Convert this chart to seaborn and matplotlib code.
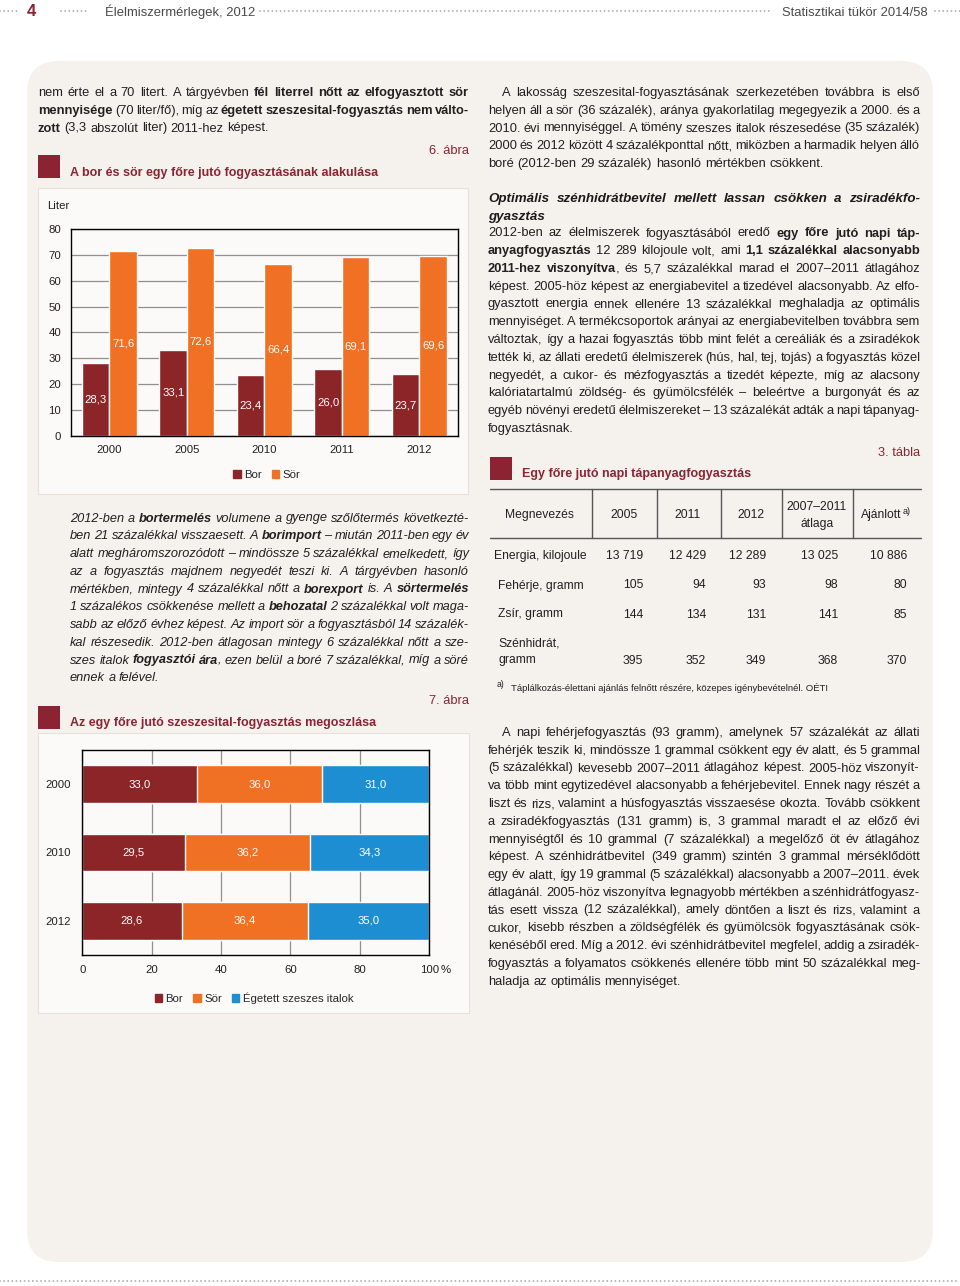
import numpy as np
import pandas as pd
import matplotlib
matplotlib.use("Agg")
import matplotlib.pyplot as plt
import seaborn as sns
from matplotlib.patches import FancyBboxPatch, Rectangle
from matplotlib.lines import Line2D

# --- 6. ábra: bor és sör fogyasztás (liter/fő)
years6 = ["2000", "2005", "2010", "2011", "2012"]
bor6 = [28.3, 33.1, 23.4, 26.0, 23.7]
sor6 = [71.6, 72.6, 66.4, 69.1, 69.6]

# --- 7. ábra: szeszesital-fogyasztás megoszlása (%)
years7 = ["2000", "2010", "2012"]
bor7 = [33.0, 29.5, 28.6]
sor7 = [36.0, 36.2, 36.4]
eget7 = [31.0, 34.3, 35.0]

# --- 3. tábla
tab_head = ["2005", "2011", "2012", "2007–2011\nátlaga", "Ajánlott"]
tab_rows = ["Energia, kilojoule", "Fehérje, gramm", "Zsír, gramm", "Szénhidrát,\ngramm"]
tab_2005 = ["13 719", "105", "144", "395"]
tab_2011 = ["12 429", "94", "134", "352"]
tab_2012 = ["12 289", "93", "131", "349"]
tab_avg = ["13 025", "98", "141", "368"]
tab_rec = ["10 886", "80", "85", "370"]

left_p1 = [
    "nem érte el a 70 litert. A tárgyévben **fél literrel nőtt az elfogyasztott sör**",
    "**mennyisége** (70 liter/fő), míg az **égetett szeszesital-fogyasztás nem válto-**",
    "**zott** (3,3 abszolút liter) 2011-hez képest.",
]
left_p2 = [
    "2012-ben a **bortermelés** volumene a gyenge szőlőtermés következté-",
    "ben 21 százalékkal visszaesett. A **borimport** – miután 2011-ben egy év",
    "alatt megháromszorozódott – mindössze 5 százalékkal emelkedett, így",
    "az a fogyasztás majdnem negyedét teszi ki. A tárgyévben hasonló",
    "mértékben, mintegy 4 százalékkal nőtt a **borexport** is. A **sörtermelés**",
    "1 százalékos csökkenése mellett a **behozatal** 2 százalékkal volt maga-",
    "sabb az előző évhez képest. Az import sör a fogyasztásból 14 százalék-",
    "kal részesedik. 2012-ben átlagosan mintegy 6 százalékkal nőtt a sze-",
    "szes italok **fogyasztói ára**, ezen belül a boré 7 százalékkal, míg a söré",
    "ennek a felével.",
]
right_p1 = [
    "A lakosság szeszesital-fogyasztásának szerkezetében továbbra is első",
    "helyen áll a sör (36 százalék), aránya gyakorlatilag megegyezik a 2000. és a",
    "2010. évi mennyiséggel. A tömény szeszes italok részesedése (35 százalék)",
    "2000 és 2012 között 4 százalékponttal nőtt, miközben a harmadik helyen álló",
    "boré (2012-ben 29 százalék) hasonló mértékben csökkent.",
]
right_head = [
    "**Optimális szénhidrátbevitel mellett lassan csökken a zsiradékfo-**",
    "**gyasztás**",
]
right_p2 = [
    "2012-ben az élelmiszerek fogyasztásából eredő **egy főre jutó napi táp-**",
    "**anyagfogyasztás** 12 289 kilojoule volt, ami **1,1 százalékkal alacsonyabb**",
    "**2011-hez viszonyítva**, és 5,7 százalékkal marad el 2007–2011 átlagához",
    "képest. 2005-höz képest az energiabevitel a tizedével alacsonyabb. Az elfo-",
    "gyasztott energia ennek ellenére 13 százalékkal meghaladja az optimális",
    "mennyiséget. A termékcsoportok arányai az energiabevitelben továbbra sem",
    "változtak, így a hazai fogyasztás több mint felét a cereáliák és a zsiradékok",
    "tették ki, az állati eredetű élelmiszerek (hús, hal, tej, tojás) a fogyasztás közel",
    "negyedét, a cukor- és mézfogyasztás a tizedét képezte, míg az alacsony",
    "kalóriatartalmú zöldség- és gyümölcsfélék – beleértve a burgonyát és az",
    "egyéb növényi eredetű élelmiszereket – 13 százalékát adták a napi tápanyag-",
    "fogyasztásnak.",
]
right_p3 = [
    "A napi fehérjefogyasztás (93 gramm), amelynek 57 százalékát az állati",
    "fehérjék teszik ki, mindössze 1 grammal csökkent egy év alatt, és 5 grammal",
    "(5 százalékkal) kevesebb 2007–2011 átlagához képest. 2005-höz viszonyít-",
    "va több mint egytizedével alacsonyabb a fehérjebevitel. Ennek nagy részét a",
    "liszt és rizs, valamint a húsfogyasztás visszaesése okozta. Tovább csökkent",
    "a zsiradékfogyasztás (131 gramm) is, 3 grammal maradt el az előző évi",
    "mennyiségtől és 10 grammal (7 százalékkal) a megelőző öt év átlagához",
    "képest. A szénhidrátbevitel (349 gramm) szintén 3 grammal mérséklődött",
    "egy év alatt, így 19 grammal (5 százalékkal) alacsonyabb a 2007–2011. évek",
    "átlagánál. 2005-höz viszonyítva legnagyobb mértékben a szénhidrátfogyasz-",
    "tás esett vissza (12 százalékkal), amely döntően a liszt és rizs, valamint a",
    "cukor, kisebb részben a zöldségfélék és gyümölcsök fogyasztásának csök-",
    "kenéséből ered. Míg a 2012. évi szénhidrátbevitel megfelel, addig a zsiradék-",
    "fogyasztás a folyamatos csökkenés ellenére több mint 50 százalékkal meg-",
    "haladja az optimális mennyiséget.",
]

BOR = "#8C2527"
SOR = "#F07124"
EGT = "#1E8ED2"
DARKRED = "#8B2332"
TXT = "#231f20"
GRID = "#8f8f8f"
PANEL = "#F5F2EE"
BOX = "#FBFAF8"

sns.set_theme(style="white")
plt.rcParams["font.family"] = ["Liberation Sans", "DejaVu Sans"]

W, H = 9.60, 12.86
fig = plt.figure(figsize=(W, H), dpi=100)
fig.patch.set_facecolor("white")
renderer = fig.canvas.get_renderer()
T = fig.dpi_scale_trans


def put(x, y, s, **kw):
    # x, y in pixels from top-left
    return fig.text(x / 100, H - y / 100, s, transform=T, **kw)


def width(t):
    return t.get_window_extent(renderer).width


def hline(x0, x1, y, **kw):
    fig.add_artist(Line2D([x0 / 100, x1 / 100], [H - y / 100, H - y / 100], transform=T, **kw))


def vline(x, y0, y1, **kw):
    fig.add_artist(Line2D([x / 100, x / 100], [H - y0 / 100, H - y1 / 100], transform=T, **kw))


def fmt(v):
    return f"{v:.1f}".replace(".", ",")


def para(lines, x0, x1, y0, step, size, style="normal", indent=0, color=TXT):
    t1 = put(0, 0, "aa", fontsize=size, fontstyle=style)
    t2 = put(0, 0, "a a", fontsize=size, fontstyle=style)
    space = width(t2) - width(t1)
    t1.remove()
    t2.remove()
    for i, line in enumerate(lines):
        y = y0 + step * i
        words = [[]]
        for k, seg in enumerate(line.split("**")):
            bold = k % 2 == 1
            for j, part in enumerate(seg.split(" ")):
                if j > 0:
                    words.append([])
                if part:
                    words[-1].append((part, bold))
        words = [w for w in words if w]
        arts, widths = [], []
        for w in words:
            pieces = []
            for txt, b in w:
                t = put(0, y, txt, fontsize=size, fontstyle=style,
                        fontweight="bold" if b else "normal", color=color, va="baseline")
                pieces.append([t, width(t)])
            arts.append(pieces)
            widths.append(sum(p[1] for p in pieces))
        start = x0 + (indent if i == 0 else 0)
        last = i == len(lines) - 1
        gsize = space
        if not last and len(words) > 1:
            avail = x1 - start
            need = sum(widths) + 0.6 * space * (len(words) - 1)
            if need > avail:
                # squeeze too-long lines a little
                f = (avail - 0.6 * space * (len(words) - 1)) / sum(widths)
                for pieces in arts:
                    for p in pieces:
                        p[0].set_fontsize(size * f)
                        p[1] = width(p[0])
                widths = [sum(p[1] for p in pieces) for pieces in arts]
            gsize = (avail - sum(widths)) / (len(words) - 1)
        x = start
        for pieces, tot in zip(arts, widths):
            xx = x
            for t, wd in pieces:
                t.set_x(xx / 100)
                xx += wd
            x += tot + gsize


# ---- page background
fig.add_artist(FancyBboxPatch((0.27, H - 12.62), 9.06, 12.01,
                              boxstyle="round,pad=0,rounding_size=0.32",
                              fc=PANEL, ec="none", transform=T, zorder=-3))
dots = dict(color="#b0b0b0", lw=1.4, linestyle=(0, (0.01, 2.1)), dash_capstyle="round")
hline(0, 19, 11, **dots)
hline(61, 89, 11, **dots)
hline(260, 772, 11, **dots)
hline(935, 960, 11, **dots)
hline(0, 960, 1281, **dots)
put(31, 16, "4", fontsize=12, fontweight="bold", color=DARKRED, ha="center", va="baseline")
put(105, 16, "Élelmiszermérlegek, 2012", fontsize=9.4, color="#4a4a4a", va="baseline")
put(928, 16, "Statisztikai tükör 2014/58", fontsize=9.4, color="#4a4a4a", ha="right", va="baseline")

BODY = 9.3
ITAL = 9.2
STEP = 17.75
LAB = 8.2      # chart text
TS = 8.7       # table text
TITLE = 9.0

# ---- left column
para(left_p1, 38, 469, 96, STEP, BODY)
put(469, 154, "6. ábra", fontsize=BODY, color=DARKRED, ha="right", va="baseline")
fig.add_artist(Rectangle((0.38, H - 1.78), 0.22, 0.23, fc=DARKRED, ec="none", transform=T))
put(70, 176, "A bor és sör egy főre jutó fogyasztásának alakulása", fontsize=TITLE,
    fontweight="bold", color=DARKRED, va="baseline")

fig.add_artist(Rectangle((0.38, H - 4.94), 4.30, 3.06, fc=BOX, ec="#e6e1da", lw=0.8,
                         transform=T, zorder=-2))
fig.add_artist(Rectangle((0.38, H - 10.13), 4.31, 2.80, fc=BOX, ec="#e6e1da", lw=0.8,
                         transform=T, zorder=-2))

para(left_p2, 70, 469, 521.5, STEP, ITAL, style="italic")
put(469, 704, "7. ábra", fontsize=BODY, color=DARKRED, ha="right", va="baseline")
fig.add_artist(Rectangle((0.38, H - 7.29), 0.22, 0.23, fc=DARKRED, ec="none", transform=T))
put(70, 726, "Az egy főre jutó szeszesital-fogyasztás megoszlása", fontsize=TITLE,
    fontweight="bold", color=DARKRED, va="baseline")

# ---- right column
para(right_p1, 488, 920, 96, STEP, BODY, indent=14)
para(right_head, 488, 920, 202, STEP, 9.6, style="italic", color="#1e1a1b")
para(right_p2, 488, 920, 236.5, STEP, BODY)
put(920, 456, "3. tábla", fontsize=BODY, color=DARKRED, ha="right", va="baseline")
fig.add_artist(Rectangle((4.90, H - 4.80), 0.22, 0.23, fc=DARKRED, ec="none", transform=T))
put(522, 477, "Egy főre jutó napi tápanyagfogyasztás", fontsize=TITLE,
    fontweight="bold", color=DARKRED, va="baseline")

# table 3
tl = dict(color="#555555", lw=1.0)
hline(490, 921, 489, **tl)
hline(490, 921, 538, **tl)
for xv in [592, 657, 721, 782, 853]:
    vline(xv, 489, 538, **tl)
put(540, 518, "Megnevezés", fontsize=TS, color=TXT, ha="center", va="baseline")
head_x = [624, 688, 751, 817]
for hx, h in zip(head_x, tab_head[:4]):
    if "\n" in h:
        a, b = h.split("\n")
        put(hx, 510, a, fontsize=TS, color=TXT, ha="center", va="baseline")
        put(hx, 527, b, fontsize=TS, color=TXT, ha="center", va="baseline")
    else:
        put(hx, 518, h, fontsize=TS, color=TXT, ha="center", va="baseline")
t_aj = put(0, 518, tab_head[4], fontsize=TS, color=TXT, va="baseline")
t_sup = put(0, 514, "a)", fontsize=6.5, color=TXT, va="baseline")
w_aj, w_sup = width(t_aj), width(t_sup)
x_aj = 886 - (w_aj + w_sup + 1) / 2
t_aj.set_x(x_aj / 100)
t_sup.set_x((x_aj + w_aj + 1) / 100)

row_y = [559, 588.5, 617.5, 663.5]
row_x = [494, 498, 498, 498]
for lab, rx, ry in zip(tab_rows, row_x, row_y):
    if "\n" in lab:
        a, b = lab.split("\n")
        put(rx, ry - 17, a, fontsize=TS, color=TXT, va="baseline")
        put(rx, ry, b, fontsize=TS, color=TXT, va="baseline")
    else:
        put(rx, ry, lab, fontsize=TS, color=TXT, va="baseline")
col_right = [643, 706, 766, 838, 907]
for cx, col in zip(col_right, [tab_2005, tab_2011, tab_2012, tab_avg, tab_rec]):
    for ry, v in zip(row_y, col):
        put(cx, ry, v, fontsize=TS, color=TXT, ha="right", va="baseline")
put(497, 687, "a)", fontsize=6.2, color=TXT, va="baseline")
put(511, 691, "Táplálkozás-élettani ajánlás felnőtt részére, közepes igénybevételnél. OÉTI",
    fontsize=6.8, color=TXT, va="baseline")

para(right_p3, 488, 920, 736, STEP, BODY, indent=14)

# ---- chart 6 (grouped bars)
ax6 = fig.add_axes([70.7 / 960, 1 - 435.7 / 1286, 387.3 / 960, 206.7 / 1286])
df6 = pd.DataFrame({"ev": years6 * 2,
                    "ital": ["Bor"] * len(bor6) + ["Sör"] * len(sor6),
                    "liter": bor6 + sor6})
sns.barplot(data=df6, x="ev", y="liter", hue="ital", palette=[BOR, SOR], width=0.71,
            saturation=1, legend=False, ax=ax6, zorder=2)
for c in ax6.containers:
    ax6.bar_label(c, labels=[fmt(v) for v in c.datavalues], label_type="center",
                  color="white", fontsize=LAB)
ax6.set_facecolor(BOX)
ax6.set_ylim(0, 80)
ax6.set_yticks(range(0, 81, 10))
ax6.yaxis.grid(True, color=GRID, lw=0.9)
ax6.set_axisbelow(True)
ax6.set_xlabel("")
ax6.set_ylabel("")
ax6.tick_params(length=0, labelsize=LAB, colors=TXT)
ax6.tick_params(axis="y", pad=7)
ax6.tick_params(axis="x", pad=7)
for s in ax6.spines.values():
    s.set_color("black")
    s.set_linewidth(1.0)
put(47, 209, "Liter", fontsize=LAB, color=TXT, va="baseline")
h6 = [Rectangle((0, 0), 1, 1, color=BOR), Rectangle((0, 0), 1, 1, color=SOR)]
ax6.legend(h6, ["Bor", "Sör"], loc="center", bbox_to_anchor=(267 / 960, 1 - 475 / 1286),
           bbox_transform=fig.transFigure, ncol=2, frameon=False, handlelength=0.65,
           handleheight=0.65, handletextpad=0.3, columnspacing=0.9, fontsize=LAB)

# ---- chart 7 (stacked horizontal bars)
ax7 = fig.add_axes([82.3 / 960, 1 - 955 / 1286, 347 / 960, 205 / 1286])
bor7_a = np.array(bor7)
bor_sor7 = bor7_a + np.array(sor7)
total7 = bor_sor7 + np.array(eget7)
df7 = pd.DataFrame({"ev": years7, "bor": bor7_a, "bor_sor": bor_sor7, "osszes": total7})
for col, clr in [("osszes", EGT), ("bor_sor", SOR), ("bor", BOR)]:
    sns.barplot(data=df7, y="ev", x=col, color=clr, width=0.55, saturation=1,
                orient="h", ax=ax7, zorder=2)
starts = [np.zeros(len(bor7)), bor7_a, bor_sor7]
for st, vals in zip(starts, [bor7, sor7, eget7]):
    for i, (s0, v) in enumerate(zip(st, vals)):
        ax7.text(s0 + v / 2, i, fmt(v), ha="center", va="center", color="white",
                 fontsize=LAB, zorder=3)
ax7.set_facecolor(BOX)
ax7.set_xlim(0, 100)
ax7.set_xticks(range(0, 101, 20))
ax7.xaxis.grid(True, color=GRID, lw=0.9)
ax7.yaxis.grid(False)
ax7.set_axisbelow(True)
ax7.set_xlabel("")
ax7.set_ylabel("")
ax7.tick_params(length=0, labelsize=LAB, colors=TXT)
ax7.tick_params(axis="y", pad=8.5)
ax7.tick_params(axis="x", pad=7)
ax7.annotate("%", xy=(100, 0), xycoords=("data", "axes fraction"), xytext=(8.5, -7),
             textcoords="offset points", ha="left", va="top", fontsize=LAB, color=TXT)
for s in ax7.spines.values():
    s.set_color("black")
    s.set_linewidth(1.0)
h7 = [Rectangle((0, 0), 1, 1, color=c) for c in (BOR, SOR, EGT)]
ax7.legend(h7, ["Bor", "Sör", "Égetett szeszes italok"], loc="center",
           bbox_to_anchor=(254 / 960, 1 - 998 / 1286), bbox_transform=fig.transFigure,
           ncol=3, frameon=False, handlelength=0.65, handleheight=0.65,
           handletextpad=0.3, columnspacing=0.9, fontsize=LAB)

fig.savefig("out.png", dpi=100, facecolor="white")
